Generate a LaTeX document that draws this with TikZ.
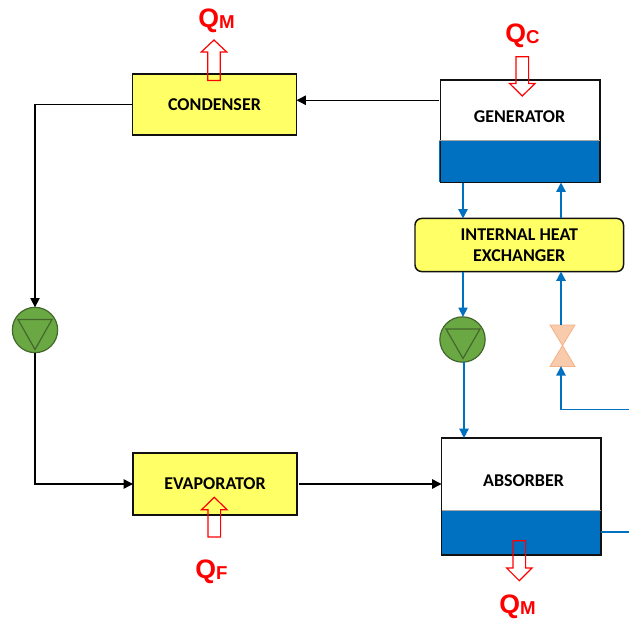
\documentclass[tikz,border=0pt]{standalone}
\usepackage{fontspec}
\setmainfont{Carlito}
\newfontfamily\qfont{Liberation Sans}
\usetikzlibrary{arrows.meta}
\definecolor{fillyellow}{HTML}{FFFF66}
\definecolor{liqblue}{HTML}{0070C0}
\definecolor{pumpgreen}{HTML}{6AA843}
\definecolor{pumpedge}{HTML}{44682C}
\definecolor{valvefill}{HTML}{F8CBAD}
\definecolor{valveedge}{HTML}{F4B183}
\definecolor{boxedge}{HTML}{111111}
\tikzset{
  x=0.75pt,y=-0.75pt,
  box/.style={draw=boxedge,line width=1.1pt,inner sep=0pt,outer sep=0pt,font=\fontsize{13.5pt}{16pt}\selectfont\bfseries,align=center},
  yellowbox/.style={box,fill=fillyellow},
  whitebox/.style={fill=white,inner sep=0pt,outer sep=0pt},
  liquid/.style={fill=liqblue,draw=none,inner sep=0pt},
  boxlabel/.style={font=\fontsize{13.5pt}{16pt}\selectfont\bfseries,inner sep=0pt},
  pump/.style={circle,draw=pumpedge,line width=0.9pt,fill=pumpgreen,minimum size=34pt,inner sep=0pt,outer sep=0pt},
  pumptri/.style={draw=pumpedge,line width=0.9pt,line join=miter},
  blackline/.style={draw=black,line width=1.05pt,-{Triangle[length=7pt,width=7pt]}},
  blueline/.style={draw=liqblue,line width=1.05pt,-{Triangle[length=7pt,width=7pt]}},
  blueplain/.style={draw=liqblue,line width=1.05pt},
  heat/.style={draw=red,line width=0.9pt,line join=miter},
  qtext/.style={text=red,inner sep=0pt,anchor=base west,font=\qfont\bfseries\fontsize{20pt}{20pt}\selectfont},
  valvetri/.style={fill=valvefill,draw=valveedge,line width=0.6pt,line join=miter},
}
\newcommand{\heatarrow}[4]{%
  \draw[heat] (#1-6.3,#3) -- (#1-6.3,#4) -- (#1-12.7,#4) -- (#1,#2) -- (#1+12.7,#4) -- (#1+6.3,#4) -- (#1+6.3,#3) -- cycle;}
\newcommand{\qlabel}[5]{\node[qtext] (#1) at (#2,#3) {#4\raisebox{-1pt}{\fontsize{14pt}{14pt}\selectfont #5}};}
\begin{document}
\begin{tikzpicture}
\useasboundingbox (0,0) rectangle (629,621);

% generator
\node[whitebox,minimum width=119.6pt,minimum height=76.9pt] (gen) at (520.25,131.25) {};
\fill[liqblue] (438.5,140.5) rectangle (599.5,182);
\draw[boxedge,line width=1.1pt] (gen.north west) rectangle (gen.south east);
\draw[gray!70,line width=0.6pt] (439,140.5) -- (599.5,140.5);
\node[boxlabel] (genlabel) at (519.5,116.5) {GENERATOR};

% absorber
\node[whitebox,minimum width=119.6pt,minimum height=87.8pt] (abs) at (521.25,496.5) {};
\fill[liqblue] (441.5,510) rectangle (601,555);
\draw[boxedge,line width=1.1pt] (abs.north west) rectangle (abs.south east);
\draw[gray!70,line width=0.6pt] (442,510) -- (600.5,510);
\node[boxlabel] (abslabel) at (523.5,480.5) {ABSORBER};

% yellow boxes
\node[yellowbox,minimum width=123pt,minimum height=45.8pt] (cond) at (214.5,104.5) {CONDENSER};
\node[yellowbox,minimum width=123pt,minimum height=46.5pt] (evap) at (215,484) {EVAPORATOR};
\node[yellowbox,rounded corners=5pt,minimum width=156.4pt,minimum height=39.8pt] (ihx) at (519.25,245) {INTERNAL HEAT\\EXCHANGER};

% pumps
\node[pump] (pumpL) at (35,330) {};
\draw[pumptri] (18,319.5) -- (52,319.5) -- (35,349.5) -- cycle;
\node[pump] (pumpR) at (462.5,339.5) {};
\draw[pumptri] (446,329) -- (480,329) -- (463,358.5) -- cycle;

% valve
\node[minimum width=19pt,minimum height=31pt,inner sep=0pt,outer sep=0pt] (valve) at (562.5,345.5) {};
\draw[valvetri] (550,325) -- (575,325) -- (562.5,345.5) -- cycle;
\draw[valvetri] (550,366.5) -- (575,366.5) -- (562.5,345.5) -- cycle;

% free ends
\coordinate (rightA) at (629,409.5);
\coordinate (rightB) at (629,532);

% black connectors
\draw[blackline] (cond.west) -| (pumpL.north);
\draw[blackline] (pumpL.south) |- (evap.west);
\draw[blackline] ([xshift=1.5pt]evap.east) -- (evap.east -| abs.west);
\draw[blackline] ([yshift=23.25pt,xshift=-1.5pt]gen.west) -- ([yshift=23.25pt]gen.west -| cond.east);

% blue connectors
\draw[blueline] (gen.south -| 463,0) -- (ihx.north -| 463,0);
\draw[blueline] (ihx.north -| 561,0) -- (gen.south -| 561,0);
\draw[blueline] (ihx.south -| 463,0) -- (pumpR.north -| 463,0);
\draw[blueline] (pumpR.south -| 464,0) -- (abs.north -| 464,0);
\draw[blueline] (valve.north -| 561,0) -- (ihx.south -| 561,0);
\draw[blueline] (rightA) -| (valve.south -| 561,0);
\draw[blueplain] (rightB) -- (rightB -| abs.east);

% heat arrows
\heatarrow{214}{40}{80.5}{52}
\heatarrow{522.3}{96}{56.7}{83.5}
\heatarrow{214.3}{497.3}{537}{509.7}
\heatarrow{519.3}{580.7}{540.7}{568}

% heat labels
\qlabel{qm1}{198}{27.5}{Q}{M}
\qlabel{qc}{505}{42.5}{Q}{C}
\qlabel{qf}{195}{578}{Q}{F}
\qlabel{qm2}{499}{613}{Q}{M}
\end{tikzpicture}
\end{document}
